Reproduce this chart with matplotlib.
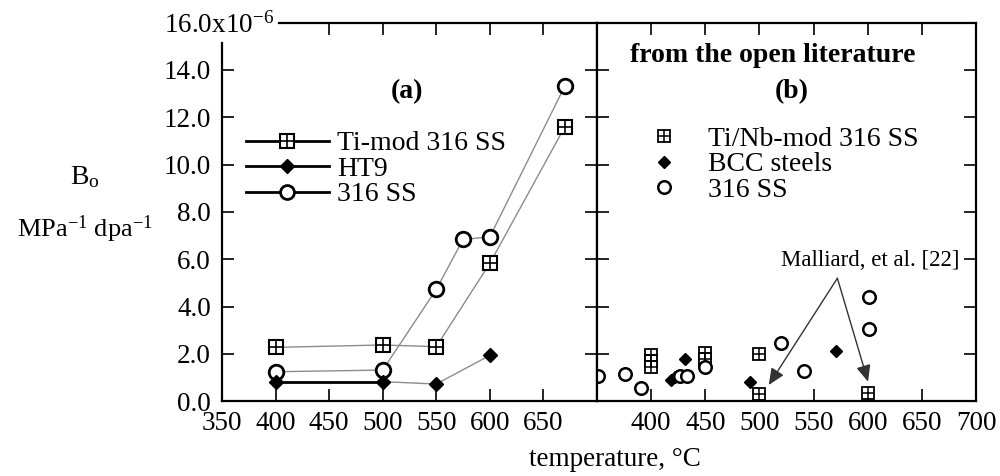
import matplotlib
matplotlib.use('Agg')
import matplotlib.pyplot as plt
from matplotlib.lines import Line2D
from matplotlib.legend_handler import HandlerTuple

plt.rcParams['font.family'] = 'Liberation Serif'
plt.rcParams['mathtext.fontset'] = 'custom'
plt.rcParams['mathtext.rm'] = 'Liberation Serif'
plt.rcParams['mathtext.default'] = 'regular'

# (a) dados deste trabalho
temp_timod = [400, 500, 550, 600, 670]
b_timod = [2.28, 2.38, 2.31, 5.83, 11.6]
temp_ht9 = [400, 500, 550, 600]
b_ht9 = [0.83, 0.83, 0.73, 1.94]
temp_316 = [400, 500, 550, 575, 600, 670]
b_316 = [1.25, 1.32, 4.73, 6.84, 6.95, 13.32]

# (b) literatura
temp_tinb = [400, 400, 400, 450, 450, 500, 500, 600]
b_tinb = [1.95, 1.7, 1.45, 2.05, 1.8, 2.0, 0.32, 0.34]
temp_bcc = [418, 422, 431, 491, 571]
b_bcc = [0.88, 1.02, 1.77, 0.83, 2.14]
temp_ss = [351, 376, 391, 427, 433, 450, 520, 541, 601, 601]
b_ss = [1.07, 1.15, 0.55, 1.07, 1.07, 1.45, 2.45, 1.29, 4.42, 3.04]

# setas Malliard
seta_origem = (572, 5.2)
seta_alvos = [(508.6, 0.69), (600.3, 0.83)]

xticks = [350, 400, 450, 500, 550, 600, 650, 700]
yticks = [0, 2, 4, 6, 8, 10, 12, 14, 16]

fig = plt.figure(figsize=(10, 4.76), dpi=100)
ax1 = fig.add_axes([0.222, 0.1569, 0.375, 0.7956])
ax2 = fig.add_axes([0.597, 0.1569, 0.379, 0.7956])

for ax in (ax1, ax2):
    ax.set_xlim(350, 700)
    ax.set_ylim(0, 16)
    ax.set_xticks(xticks)
    ax.set_yticks(yticks)
    for s in ax.spines.values():
        s.set_linewidth(1.6)
    ax.tick_params(direction='in', length=8.5, width=1.2, labelsize=19.5,
                   top=True, right=True, pad=7)

ax1.set_xticklabels([str(t) for t in xticks[:-1]] + [''])
ax1.set_yticklabels(['%.1f' % v for v in yticks[:-1]] + [''])
ax1.tick_params(axis='y', pad=8)
ax2.set_xticklabels([''] + [str(t) for t in xticks[1:]])
ax2.set_yticklabels([])

# canto superior esquerdo aberto
ax1.spines['left'].set_bounds(0, 15.15)
ax1.spines['top'].set_bounds(403, 700)
for t in ax1.xaxis.get_major_ticks()[:2]:
    t.tick2line.set_visible(False)
ax1.yaxis.get_major_ticks()[-1].tick1line.set_visible(False)

cinza = '0.55'
# painel (a)
ax1.plot(temp_timod, b_timod, color=cinza, lw=1)
ax1.plot(temp_316, b_316, color=cinza, lw=1)
ax1.plot(temp_ht9[1:], b_ht9[1:], color=cinza, lw=1)
ax1.plot(temp_ht9[:2], b_ht9[:2], color='k', lw=2)
ax1.plot(temp_timod, b_timod, ls='none', marker='s', ms=10, mfc='w', mec='k', mew=1.5)
ax1.plot(temp_timod, b_timod, ls='none', marker='+', ms=10, mec='k', mew=1.2)
ax1.plot(temp_316, b_316, ls='none', marker='o', ms=10.5, mfc='w', mec='k', mew=2)
ax1.plot(temp_ht9, b_ht9, ls='none', marker='D', ms=7, color='k')

h1 = (Line2D([], [], color='k', lw=2, marker='s', ms=10, mfc='w', mec='k', mew=1.5),
      Line2D([], [], ls='none', marker='+', ms=10, mec='k', mew=1.2))
h2 = Line2D([], [], color='k', lw=2, marker='D', ms=7)
h3 = Line2D([], [], color='k', lw=2, marker='o', ms=10, mfc='w', mew=2)
ax1.legend([h1, h2, h3], ['Ti-mod 316 SS', 'HT9', '316 SS'],
           handler_map={tuple: HandlerTuple(ndivide=1, pad=0)},
           loc='upper left', bbox_to_anchor=(0.063, 0.714), fontsize=20,
           frameon=False, borderpad=0, borderaxespad=0, handlelength=3.0,
           handletextpad=0.3, labelspacing=0.0)
ax1.text(523, 13.1, '(a)', fontsize=20, fontweight='bold', ha='center', va='center')

# painel (b)
ax2.plot(temp_tinb, b_tinb, ls='none', marker='s', ms=8, mfc='w', mec='k', mew=1.3)
ax2.plot(temp_tinb, b_tinb, ls='none', marker='+', ms=8, mec='k', mew=1.1)
ax2.plot(temp_bcc, b_bcc, ls='none', marker='D', ms=6.5, color='k')
ax2.plot(temp_ss, b_ss, ls='none', marker='o', ms=9, mfc='w', mec='k', mew=1.8)

g1 = (Line2D([], [], ls='none', marker='s', ms=8, mfc='w', mec='k', mew=1.3),
      Line2D([], [], ls='none', marker='+', ms=8, mec='k', mew=1.1))
g2 = Line2D([], [], ls='none', marker='D', ms=6.5, color='k')
g3 = Line2D([], [], ls='none', marker='o', ms=9, mfc='w', mec='k', mew=1.8)
ax2.legend([g1, g2, g3], ['Ti/Nb-mod 316 SS', 'BCC steels', '316 SS'],
           handler_map={tuple: HandlerTuple(ndivide=1, pad=0)},
           loc='upper left', bbox_to_anchor=(0.14, 0.726), fontsize=20,
           frameon=False, borderpad=0, borderaxespad=0, handlelength=1.0,
           handletextpad=1.1, labelspacing=0.0)

ax2.text(512.5, 14.63, 'from the open literature', fontsize=20, fontweight='bold',
         ha='center', va='center')
ax2.text(530, 13.1, '(b)', fontsize=20, fontweight='bold', ha='center', va='center')
ax2.text(685, 5.97, 'Malliard, et al. [22]', fontsize=16.5, ha='right', va='center')
for alvo in seta_alvos:
    ax2.annotate('', xy=alvo, xytext=seta_origem,
                 arrowprops=dict(arrowstyle='-|>,head_length=0.5,head_width=0.22',
                                 color='0.2', lw=1, shrinkA=0, shrinkB=0,
                                 mutation_scale=20))

# rotulos
fig.text(0.164, 1 - 32.5 / 476, '16.0x10$^{-6}$', fontsize=19.5, ha='left', va='baseline')
fig.text(0.085, 1 - 184 / 476, 'B$_{o}$', fontsize=20, ha='center', va='baseline')
fig.text(0.085, 1 - 237 / 476, 'MPa$^{-1}$ dpa$^{-1}$', fontsize=19, ha='center', va='baseline')
fig.text(0.6147, 1 - 466 / 476, 'temperature, °C', fontsize=19.5, ha='center', va='baseline')

fig.savefig('out.png', dpi=100)
